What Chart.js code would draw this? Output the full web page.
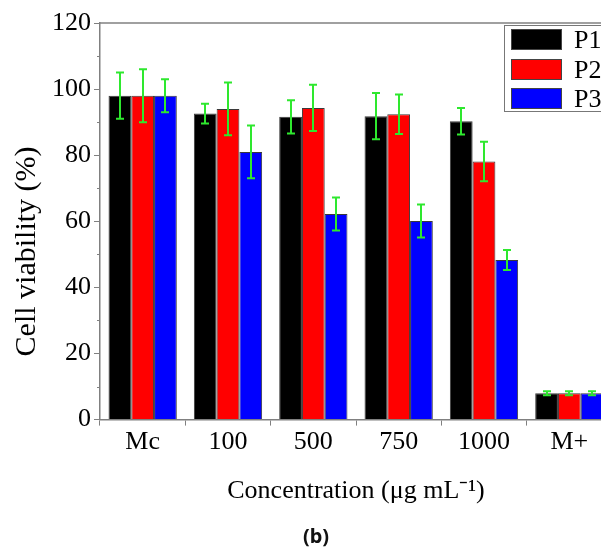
<!DOCTYPE html>
<html>
<head>
<meta charset="utf-8">
<script src="https://cdn.jsdelivr.net/npm/chart.js@4"></script>
<style>
    html, body { margin: 0; padding: 0; background: #fff; overflow: hidden; }
    #contenedor { position: relative; width: 612px; height: 552px; }
    #leyenda {
        position: absolute; left: 504px; top: 25px; width: 130px; height: 85px;
        border: 1px solid #777; background: #fff;
        font-family: "Liberation Serif", serif; font-size: 26px; color: #000;
    }
    .item { position: absolute; left: 6px; height: 21px; line-height: 21px; white-space: nowrap; }
    .muestra { display: inline-block; width: 51px; height: 21px; border: 1px solid #444; vertical-align: top; box-sizing: border-box; }
    .texto { position: absolute; left: 63px; top: 0; }
    #letra {
        position: absolute; left: 266px; width: 100px; top: 522px; text-align: center;
        font-family: "Noto Sans", sans-serif; font-weight: bold; font-size: 20px; color: #111; line-height: 28px;
    }
</style>
</head>
<body>
<div id="contenedor">
    <canvas id="graficaBarras" width="612" height="552"></canvas>
    <div id="leyenda"></div>
    <div id="letra">(b)</div>
</div>
<script>
        var categorias = ['Mc', '100', '500', '750', '1000', 'M+'];
        var series = ['P1', 'P2', 'P3'];

        var valoresP1 = [98, 92.6, 91.6, 91.8, 90.3, 8];
        var erroresP1 = [7, 3, 5, 7, 4, 0.6];
        var valoresP2 = [98, 94, 94.3, 92.4, 78.1, 8];
        var erroresP2 = [8, 8, 7, 6, 6, 0.6];
        var valoresP3 = [98, 81, 62.2, 60.1, 48.3, 8];
        var erroresP3 = [5, 8, 5, 5, 3, 0.6];

        var ticksY = [0, 20, 40, 60, 80, 100, 120];
        var ticksMenores = [10, 30, 50, 70, 90, 110];

        var colores = ['#000000', '#ff0000', '#0000ff'];
        var colorError = '#2ee82e';
        var colorEje = '#808080';
        var fuente = '"Liberation Serif", serif';

        var valores = [valoresP1, valoresP2, valoresP3];
        var errores = [erroresP1, erroresP2, erroresP3];

        var datasets = series.map(function (nombre, index) {
            return {
                label: nombre,
                data: valores[index],
                errores: errores[index],
                backgroundColor: colores[index],
                borderColor: '#3a3a3a',
                borderWidth: 1,
                borderSkipped: 'bottom',
                categoryPercentage: 0.8,
                barPercentage: 1.0
            };
        });

        // leyenda en html, encima del area de la grafica
        var leyenda = document.getElementById('leyenda');
        series.forEach(function (nombre, index) {
            var fila = document.createElement('div');
            fila.className = 'item';
            fila.style.top = (3 + index * 29.5) + 'px';
            fila.innerHTML = '<span class="muestra" style="background:' + colores[index] + '"></span>' +
                '<span class="texto">' + nombre + '</span>';
            leyenda.appendChild(fila);
        });

        var barrasError = {
            id: 'barrasError',
            afterDatasetsDraw: function (chart) {
                var ctx = chart.ctx;
                var y = chart.scales.y;
                ctx.save();
                ctx.strokeStyle = colorError;
                ctx.lineWidth = 2;
                chart.data.datasets.forEach(function (ds, i) {
                    var meta = chart.getDatasetMeta(i);
                    meta.data.forEach(function (barra, j) {
                        var arriba = y.getPixelForValue(ds.data[j] + ds.errores[j]);
                        var abajo = y.getPixelForValue(ds.data[j] - ds.errores[j]);
                        var x = Math.round(barra.x);
                        ctx.beginPath();
                        ctx.moveTo(x, arriba);
                        ctx.lineTo(x, abajo);
                        ctx.moveTo(x - 4, arriba);
                        ctx.lineTo(x + 4, arriba);
                        ctx.moveTo(x - 4, abajo);
                        ctx.lineTo(x + 4, abajo);
                        ctx.stroke();
                    });
                });
                ctx.restore();
            }
        };

        var detallesEjes = {
            id: 'detallesEjes',
            afterDraw: function (chart) {
                var ctx = chart.ctx;
                var area = chart.chartArea;
                var y = chart.scales.y;
                ctx.save();
                // borde superior del marco
                ctx.strokeStyle = colorEje;
                ctx.lineWidth = 1.5;
                ctx.beginPath();
                ctx.moveTo(area.left, area.top);
                ctx.lineTo(area.right, area.top);
                ctx.stroke();
                // marcas menores del eje y
                ctx.lineWidth = 1;
                ticksMenores.forEach(function (v) {
                    var py = Math.round(y.getPixelForValue(v)) + 0.5;
                    ctx.beginPath();
                    ctx.moveTo(area.left - 3, py);
                    ctx.lineTo(area.left, py);
                    ctx.stroke();
                });
                // titulo del eje y
                ctx.fillStyle = '#000';
                ctx.font = '30px ' + fuente;
                ctx.textAlign = 'center';
                ctx.textBaseline = 'middle';
                ctx.translate(27, area.top + (area.bottom - area.top) * 0.576);
                ctx.rotate(-Math.PI / 2);
                ctx.fillText('Cell viability (%)', 0, 0);
                ctx.restore();
            }
        };

        var ctx = document.getElementById('graficaBarras').getContext('2d');
        var graficaBarras = new Chart(ctx, {
            type: 'bar',
            data: {
                labels: categorias,
                datasets: datasets
            },
            plugins: [barrasError, detallesEjes],
            options: {
                responsive: false,
                animation: false,
                layout: {
                    padding: { left: 49, top: 23, right: 0, bottom: 38 }
                },
                plugins: {
                    legend: { display: false },
                    tooltip: { enabled: false }
                },
                scales: {
                    x: {
                        grid: { display: true, drawOnChartArea: false, tickLength: 6, color: colorEje },
                        border: { color: colorEje, width: 1.5 },
                        ticks: {
                            color: '#000',
                            padding: 1,
                            font: { family: fuente, size: 26 }
                        },
                        title: {
                            display: true,
                            text: 'Concentration (μg mL⁻¹)',
                            color: '#000',
                            font: { family: fuente, size: 26 },
                            padding: { top: 17, bottom: 7 }
                        }
                    },
                    y: {
                        min: 0,
                        max: 120,
                        afterBuildTicks: function (axis) {
                            axis.ticks = ticksY.map(function (v) { return { value: v }; });
                        },
                        grid: { display: true, drawOnChartArea: false, tickLength: 6, color: colorEje },
                        border: { color: colorEje, width: 1.5 },
                        ticks: {
                            color: '#000',
                            padding: 3,
                            font: { family: fuente, size: 26 }
                        }
                    }
                }
            }
        });
</script>
</body>
</html>
